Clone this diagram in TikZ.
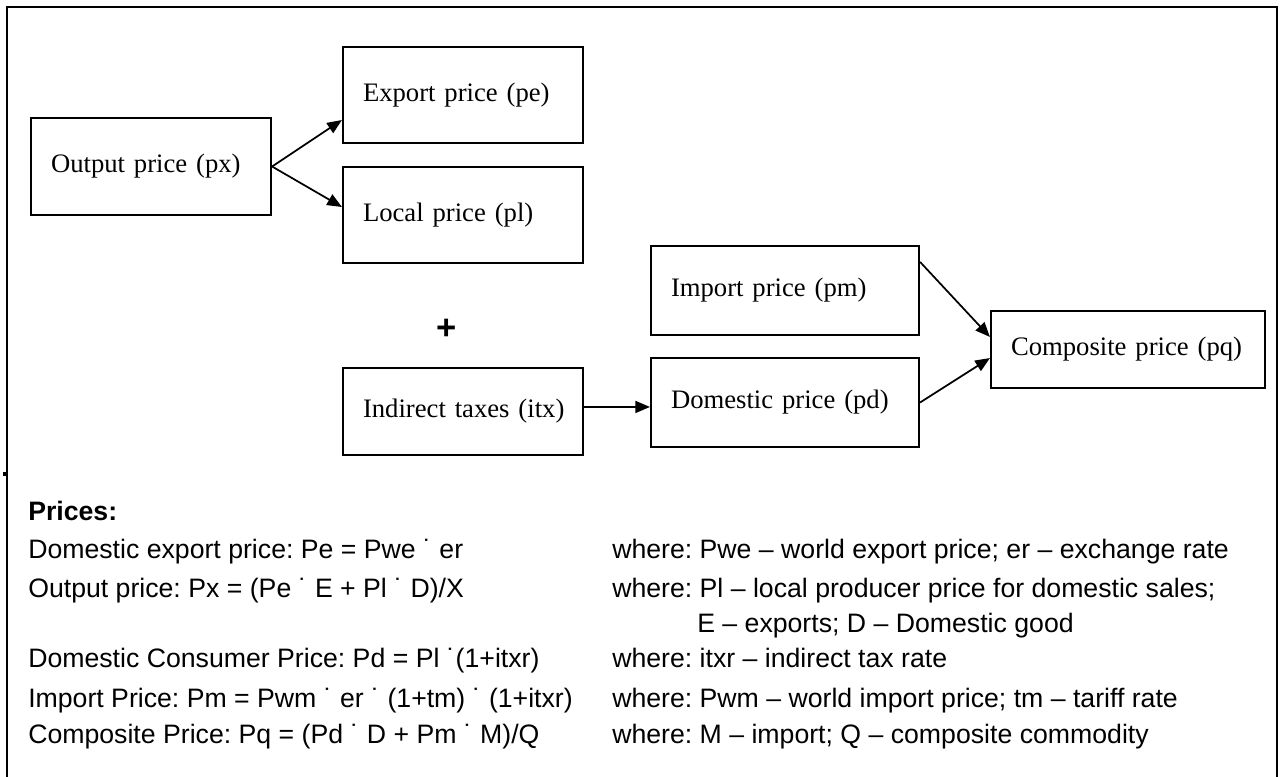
\documentclass[tikz,border=0pt]{standalone}
\usepackage{fontspec}
\setmainfont{Liberation Serif}
\setsansfont{Liberation Sans}
\usetikzlibrary{arrows.meta}
\frenchspacing

\tikzset{
  pricebox/.style={draw, line width=1.6pt, inner xsep=15pt, inner ysep=0pt, align=left,
    font=\fontsize{20}{24}\selectfont},
  flow/.style={line width=1.3pt, -{Triangle[length=11pt,width=9pt]}},
  eqline/.style={anchor=base west, inner sep=0pt, font=\sffamily\fontsize{20}{24}\selectfont}
}

\begin{document}
\begin{tikzpicture}[x=0.75pt,y=-0.75pt]
\useasboundingbox (0,0) rectangle (1283,777);
%%% outer frame (open at the bottom)
\draw[line width=2pt] (7,777) -- (7,7) -- (1277,7) -- (1277,777);
\fill (3,472) rectangle (7,476);
%%%%% The price boxes
\node[pricebox, text width=150pt, minimum height=72.75pt] (px) at (151,166.5) {Output price (px)};
\node[pricebox, text width=150pt, minimum height=72pt] (pe) at (463,95) {Export price (pe)};
\node[pricebox, text width=150pt, minimum height=72pt] (pl) at (463,215) {Local price (pl)};
\node[pricebox, text width=150pt, minimum height=65.25pt] (itx) at (463,411.5) {\mbox{Indirect taxes (itx)}};
\node[pricebox, text width=171pt, minimum height=66.75pt] (pm) at (785,290.5) {Import price (pm)};
\node[pricebox, text width=171pt, minimum height=66.75pt] (pd) at (785,402.5) {Domestic price (pd)};
\node[pricebox, text width=175.5pt, minimum height=57.75pt] (pq) at (1128,349.5) {Composite price (pq)};
\node[font=\sffamily\bfseries\fontsize{26}{26}\selectfont, inner sep=0pt] (plus) at (447,329) {+};
%%%%% The edges between the prices
\draw[flow] (px.east) -- ([yshift=-18.75pt]pe.west);
\draw[flow] (px.east) -- ([yshift=6pt]pl.west);
\coordinate (tx) at ([yshift=3.4pt]itx.east);
\draw[flow] (tx) -- (tx -| pd.west);
\draw[flow] ([yshift=-12.75pt]pm.north east) -- ([yshift=9.4pt]pq.west);
\draw[flow] (pd.east) -- ([yshift=-6.4pt]pq.west);
%%%%% The price equations
\node[eqline, font=\sffamily\bfseries\fontsize{20}{24}\selectfont] (prices) at (28,521) {Prices:};
\node[eqline] (eqpe) at (28,558) {Domestic export price: Pe = Pwe ˙ er};
\node[eqline] (eqpx) at (28,597) {Output price: Px = (Pe ˙ E + Pl ˙ D)/X};
\node[eqline] (eqpd) at (28,667) {Domestic Consumer Price: Pd = Pl ˙(1+itxr)};
\node[eqline] (eqpm) at (28,707) {Import Price: Pm = Pwm ˙ er ˙ (1+tm) ˙ (1+itxr)};
\node[eqline] (eqpq) at (28,743) {Composite Price: Pq = (Pd ˙ D + Pm ˙ M)/Q};
%%%%% and what the symbols stand for
\node[eqline] (whpe) at (612,558) {where: Pwe – world export price; er – exchange rate};
\node[eqline] (whpx) at (612,597) {where: Pl – local producer price for domestic sales;};
\node[eqline] (whpx2) at (697,632) {E – exports; D – Domestic good};
\node[eqline] (whpd) at (612,667) {where: itxr – indirect tax rate};
\node[eqline] (whpm) at (612,707) {where: Pwm – world import price; tm – tariff rate};
\node[eqline] (whpq) at (612,743) {where: M – import; Q – composite commodity};
\end{tikzpicture}
\end{document}
